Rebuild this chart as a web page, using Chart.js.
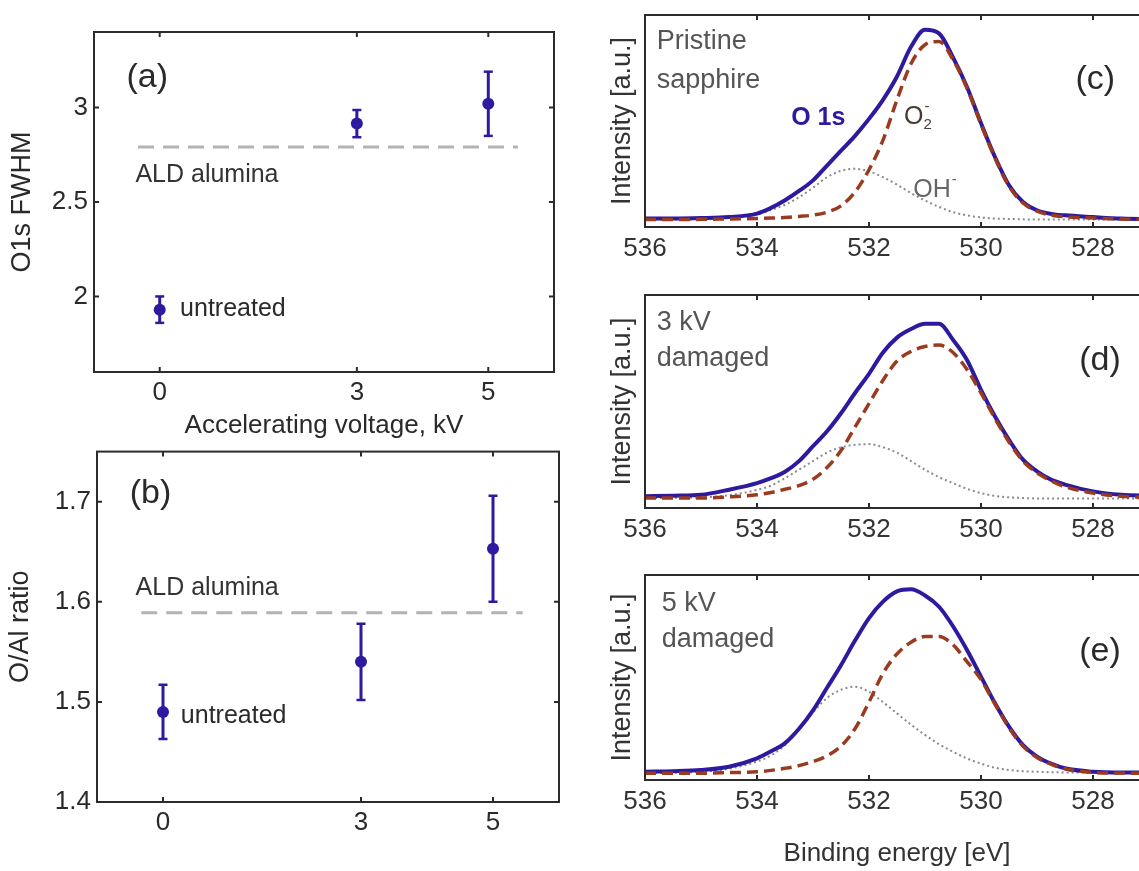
<!DOCTYPE html>
<html>
<head>
<meta charset="utf-8">
<title>O 1s FWHM, O/Al ratio and O 1s spectra</title>
<script src="https://cdn.jsdelivr.net/npm/chart.js@4.4.1/dist/chart.umd.min.js"></script>
<style>
    html, body { margin: 0; padding: 0; background: #fff; overflow: hidden; }
    #page { position: relative; width: 1139px; height: 871px; overflow: hidden; }
    #page canvas { position: absolute; }
</style>
</head>
<body>
<div id="page">
    <canvas id="plotA" width="561" height="431" style="left:0;top:10px"></canvas>
    <canvas id="plotB" width="566" height="417" style="left:0;top:430px"></canvas>
    <canvas id="plotC" width="550" height="272" style="left:600px;top:0"></canvas>
    <canvas id="plotD" width="550" height="273" style="left:600px;top:280px"></canvas>
    <canvas id="plotE" width="550" height="309" style="left:600px;top:560px"></canvas>
</div>
<script>
    // left panels: accelerating voltage (kV)
    var voltages = [0, 3, 5]
    var voltageTicks = [0, 3, 5]
    var fwhm = [1.93, 2.915, 3.02]
    var fwhmErr = [0.07, 0.072, 0.17]
    var fwhmAld = 2.791
    var fwhmTicks = [2, 2.5, 3]
    var ratio = [1.49, 1.54, 1.653]
    var ratioErr = [0.027, 0.038, 0.053]
    var ratioAld = 1.589
    var ratioTicks = [1.4, 1.5, 1.6, 1.7]
    var aldSpan = [-0.33, 5.45]

    // right panels: O 1s spectra, binding energy (eV), intensity normalised to the frame
    var energy = [536, 535.5, 535, 534.5, 534, 533.75, 533.5, 533.25, 533, 532.75, 532.5, 532.25, 532, 531.75, 531.5,
        531.25, 531, 530.75, 530.5, 530.25, 530, 529.75, 529.5, 529.25, 529, 528.75, 528.5, 528, 527.5, 527, 526]
    var energyTicks = [536, 534, 532, 530, 528]

    var pristineO1s = [0.04, 0.04, 0.042, 0.047, 0.063, 0.09, 0.126, 0.17, 0.22, 0.29, 0.36, 0.43, 0.51, 0.6, 0.71,
        0.85, 0.93, 0.913, 0.8, 0.66, 0.49, 0.33, 0.197, 0.118, 0.079, 0.062, 0.055, 0.047, 0.04, 0.037, 0.035]
    var pristineO2 = [0.035, 0.035, 0.036, 0.038, 0.04, 0.042, 0.045, 0.05, 0.056, 0.07, 0.1, 0.165, 0.27, 0.41, 0.6,
        0.77, 0.86, 0.875, 0.79, 0.655, 0.485, 0.325, 0.192, 0.113, 0.075, 0.056, 0.048, 0.042, 0.038, 0.036, 0.035]
    var pristineOH = [0.035, 0.035, 0.037, 0.045, 0.06, 0.08, 0.105, 0.14, 0.185, 0.235, 0.265, 0.275, 0.262, 0.235, 0.2,
        0.16, 0.125, 0.095, 0.07, 0.055, 0.045, 0.04, 0.038, 0.036, 0.035, 0.035, 0.035, 0.035, 0.035, 0.035, 0.035]

    var kv3O1s = [0.055, 0.058, 0.062, 0.086, 0.117, 0.14, 0.17, 0.22, 0.29, 0.36, 0.445, 0.54, 0.63, 0.73, 0.8,
        0.84, 0.865, 0.865, 0.79, 0.695, 0.555, 0.43, 0.32, 0.227, 0.172, 0.133, 0.11, 0.078, 0.062, 0.058, 0.055]
    var kv3O2 = [0.047, 0.047, 0.047, 0.052, 0.062, 0.073, 0.088, 0.105, 0.135, 0.19, 0.27, 0.38, 0.49, 0.6, 0.69,
        0.735, 0.758, 0.765, 0.73, 0.65, 0.54, 0.42, 0.31, 0.22, 0.165, 0.128, 0.1, 0.07, 0.055, 0.05, 0.048]
    var kv3OH = [0.047, 0.048, 0.05, 0.06, 0.085, 0.105, 0.14, 0.18, 0.22, 0.26, 0.285, 0.297, 0.3, 0.285, 0.26,
        0.22, 0.18, 0.145, 0.117, 0.09, 0.07, 0.057, 0.05, 0.047, 0.045, 0.045, 0.045, 0.045, 0.045, 0.045, 0.045]

    var kv5O1s = [0.04, 0.043, 0.049, 0.065, 0.106, 0.14, 0.18, 0.25, 0.34, 0.45, 0.56, 0.68, 0.79, 0.87, 0.92,
        0.93, 0.9, 0.845, 0.75, 0.634, 0.504, 0.374, 0.26, 0.17, 0.114, 0.08, 0.057, 0.04, 0.036, 0.036, 0.036]
    var kv5O2 = [0.033, 0.033, 0.033, 0.036, 0.04, 0.047, 0.057, 0.07, 0.09, 0.118, 0.165, 0.25, 0.38, 0.52, 0.615,
        0.672, 0.7, 0.7, 0.66, 0.577, 0.49, 0.37, 0.255, 0.165, 0.11, 0.078, 0.055, 0.037, 0.034, 0.033, 0.033]
    var kv5OH = [0.033, 0.035, 0.04, 0.055, 0.09, 0.12, 0.17, 0.25, 0.33, 0.4, 0.44, 0.455, 0.43, 0.38, 0.325,
        0.27, 0.22, 0.175, 0.138, 0.105, 0.08, 0.06, 0.049, 0.043, 0.04, 0.038, 0.037, 0.037, 0.037, 0.037, 0.037]

    var markColor = '#2d1a9f'
    var fitColor = '#9a3a1e'
    var ohColor = '#8a8a8a'
    var aldColor = '#b3b3b3'

    Chart.defaults.font.family = "'Liberation Sans', Arial, sans-serif"
    Chart.defaults.color = '#2a2a2a'
    Chart.defaults.animation = false
    Chart.defaults.events = []
    Chart.defaults.plugins.legend.display = false
    Chart.defaults.plugins.tooltip.enabled = false

    // box round the plot area, inward tick marks and text notes placed in data units
    var frameBox = {
        id: 'frameBox',
        afterDatasetsDraw: function (chart, args, opts) {
            var a = chart.chartArea
            var ctx = chart.ctx
            var xs = chart.scales.x
            var ys = chart.scales.y
            ctx.save()
            ctx.strokeStyle = '#2b2b2b'
            ctx.lineWidth = 2
            ctx.strokeRect(a.left, a.top, a.right - a.left, a.bottom - a.top)
            ctx.beginPath()
            xs.ticks.forEach(function (t) {
                var px = xs.getPixelForValue(t.value)
                ctx.moveTo(px, a.bottom); ctx.lineTo(px, a.bottom - 5)
                ctx.moveTo(px, a.top); ctx.lineTo(px, a.top + 5)
            })
            if (!opts.noYTicks) {
                ys.ticks.forEach(function (t) {
                    var py = ys.getPixelForValue(t.value)
                    ctx.moveTo(a.left, py); ctx.lineTo(a.left + 5, py)
                    ctx.moveTo(a.right, py); ctx.lineTo(a.right - 5, py)
                })
            }
            ctx.stroke()
            ctx.textBaseline = 'middle'
            ;(opts.notes || []).forEach(function (n) {
                var px = xs.getPixelForValue(n.x)
                var py = ys.getPixelForValue(n.y)
                ctx.font = n.font
                ctx.fillStyle = n.color || '#2a2a2a'
                ctx.textAlign = n.align || 'left'
                ctx.fillText(n.text, px, py)
                if (n.sub || n.sup) {
                    var w = ctx.measureText(n.text).width
                    ctx.font = n.small
                    ctx.textAlign = 'left'
                    if (n.sub) ctx.fillText(n.sub, px + w, py + 8)
                    if (n.sup) ctx.fillText(n.sup, px + w + 1, py - 10)
                }
            })
            ctx.restore()
        }
    }

    function fixTicks(values) {
        return function (scale) {
            scale.ticks = values.map(function (v) { return { value: v } })
        }
    }

    function errorBars(ys, errs) {
        return voltages.map(function (v, i) {
            return {
                data: [{ x: v, y: ys[i] - errs[i] }, { x: v, y: ys[i] + errs[i] }],
                borderColor: markColor,
                borderWidth: 3,
                pointStyle: 'line',
                pointRadius: 4.5,
                pointBorderWidth: 2.5,
                pointBorderColor: markColor
            }
        })
    }

    function drawVoltagePlot(id, values, errs, ald, yMin, yMax, yTicks, yTitle, opt) {
        var points = voltages.map(function (v, i) { return { x: v, y: values[i] } })
        var datasets = [{
            data: points,
            showLine: false,
            pointRadius: 6,
            pointBorderWidth: 0,
            pointBackgroundColor: markColor
        }].concat(errorBars(values, errs)).concat([{
            data: [{ x: aldSpan[0], y: ald }, { x: aldSpan[1], y: ald }],
            borderColor: aldColor,
            borderWidth: 3,
            borderDash: [16, 9],
            pointRadius: 0
        }])
        return new Chart(document.getElementById(id), {
            type: 'line',
            data: { datasets: datasets },
            options: {
                responsive: false,
                layout: { padding: { top: opt.padTop, right: 2, left: 0, bottom: 0 } },
                scales: {
                    x: {
                        type: 'linear', min: -1, max: 6,
                        afterBuildTicks: fixTicks(voltageTicks),
                        afterFit: function (s) { s.height = opt.xHeight },
                        grid: { display: false, drawTicks: false },
                        border: { display: false },
                        ticks: { padding: 5, font: { size: 26 }, callback: function (v) { return String(v) } },
                        title: {
                            display: !!opt.xTitle, text: opt.xTitle || '',
                            font: { size: 26 }, padding: { top: 0, bottom: 0 }
                        }
                    },
                    y: {
                        min: yMin, max: yMax,
                        afterBuildTicks: fixTicks(yTicks),
                        afterFit: function (s) { s.width = opt.yWidth },
                        grid: { display: false, drawTicks: false },
                        border: { display: false },
                        ticks: { padding: 6, font: { size: 26 }, callback: function (v) { return String(v) } },
                        title: { display: true, text: yTitle, font: { size: 27 }, padding: { top: opt.titlePad, bottom: 0 } }
                    }
                },
                plugins: { frameBox: { notes: opt.notes } }
            },
            plugins: [frameBox]
        })
    }

    function drawSpectrum(id, o1s, o2, oh, notes, opt) {
        function pts(arr) {
            return energy.map(function (e, i) { return { x: e, y: arr[i] } })
        }
        return new Chart(document.getElementById(id), {
            type: 'line',
            data: {
                datasets: [{
                    data: pts(o2),
                    borderColor: fitColor,
                    borderWidth: 3.5,
                    borderDash: [11, 6],
                    pointRadius: 0,
                    cubicInterpolationMode: 'monotone'
                }, {
                    data: pts(o1s),
                    borderColor: markColor,
                    borderWidth: 4,
                    pointRadius: 0,
                    cubicInterpolationMode: 'monotone'
                }, {
                    data: pts(oh),
                    borderColor: ohColor,
                    borderWidth: 2,
                    borderDash: [2, 3],
                    pointRadius: 0,
                    cubicInterpolationMode: 'monotone'
                }]
            },
            options: {
                responsive: false,
                layout: { padding: { top: 15, right: 1, left: 0, bottom: 0 } },
                scales: {
                    x: {
                        type: 'linear', min: 527, max: 536, reverse: true,
                        afterBuildTicks: fixTicks(energyTicks),
                        afterFit: function (s) { s.height = opt.xHeight },
                        grid: { display: false, drawTicks: false },
                        border: { display: false },
                        ticks: { padding: 6, font: { size: 26 }, color: '#333', callback: function (v) { return String(v) } },
                        title: {
                            display: !!opt.xTitle, text: opt.xTitle || '', color: '#333',
                            font: { size: 26 }, padding: { top: 0, bottom: 0 }
                        }
                    },
                    y: {
                        min: 0, max: 1,
                        afterFit: function (s) { s.width = 45 },
                        grid: { display: false, drawTicks: false },
                        border: { display: false },
                        ticks: { display: false },
                        title: { display: true, text: 'Intensity [a.u.]', color: '#333', font: { size: 27 }, padding: { top: 6, bottom: 0 } }
                    }
                },
                plugins: { frameBox: { noYTicks: true, notes: notes } }
            },
            plugins: [frameBox]
        })
    }

    var noteFont = "25px 'Liberation Sans', Arial, sans-serif"
    var labelFont = "34px 'Liberation Sans', Arial, sans-serif"
    var captionFont = "27px 'Liberation Sans', Arial, sans-serif"
    var smallFont = "15px 'Liberation Sans', Arial, sans-serif"

    drawVoltagePlot('plotA', fwhm, fwhmErr, fwhmAld, 1.6, 3.4, fwhmTicks, 'O1s FWHM', {
        padTop: 22, xHeight: 69, yWidth: 94, titlePad: 6,
        xTitle: 'Accelerating voltage, kV',
        notes: [
            { text: '(a)', x: -0.19, y: 3.16, font: labelFont, align: 'center' },
            { text: 'ALD alumina', x: -0.37, y: 2.643, font: noteFont, color: '#333' },
            { text: 'untreated', x: 0.31, y: 1.934, font: noteFont }
        ]
    })

    drawVoltagePlot('plotB', ratio, ratioErr, ratioAld, 1.4, 1.75, ratioTicks, 'O/Al ratio', {
        padTop: 20, xHeight: 45, yWidth: 97, titlePad: 4,
        notes: [
            { text: '(b)', x: -0.19, y: 1.7085, font: labelFont, align: 'center' },
            { text: 'ALD alumina', x: -0.415, y: 1.614, font: noteFont, color: '#333' },
            { text: 'untreated', x: 0.27, y: 1.486, font: noteFont }
        ]
    })

    drawSpectrum('plotC', pristineO1s, pristineO2, pristineOH, [
        { text: 'Pristine', x: 535.79, y: 0.874, font: captionFont, color: '#555' },
        { text: 'sapphire', x: 535.79, y: 0.693, font: captionFont, color: '#555' },
        { text: '(c)', x: 527.96, y: 0.693, font: labelFont, align: 'center' },
        { text: 'O 1s', x: 533.39, y: 0.514, font: "bold 25px 'Liberation Sans', Arial, sans-serif", color: markColor },
        { text: 'O', x: 531.375, y: 0.52, font: noteFont, color: '#4a3a34', sub: '2', sup: '-', small: smallFont },
        { text: 'OH', x: 531.21, y: 0.175, font: noteFont, color: '#666', sup: '-', small: smallFont }
    ], { xHeight: 45 })

    drawSpectrum('plotD', kv3O1s, kv3O2, kv3OH, [
        { text: '3 kV', x: 535.79, y: 0.869, font: captionFont, color: '#555' },
        { text: 'damaged', x: 535.79, y: 0.70, font: captionFont, color: '#555' },
        { text: '(d)', x: 527.875, y: 0.69, font: labelFont, align: 'center' }
    ], { xHeight: 45 })

    drawSpectrum('plotE', kv5O1s, kv5O2, kv5OH, [
        { text: '5 kV', x: 535.7, y: 0.863, font: captionFont, color: '#555' },
        { text: 'damaged', x: 535.7, y: 0.683, font: captionFont, color: '#555' },
        { text: '(e)', x: 527.875, y: 0.624, font: labelFont, align: 'center' }
    ], { xHeight: 89, xTitle: 'Binding energy [eV]' })
</script>
</body>
</html>
